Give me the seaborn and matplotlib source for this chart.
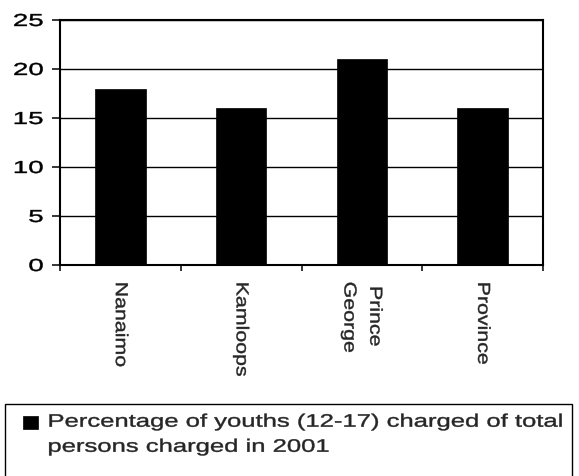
import matplotlib
matplotlib.use("Agg")
import matplotlib.pyplot as plt
import pandas as pd
import seaborn as sns
from matplotlib.legend_handler import HandlerPatch
from matplotlib.patches import Rectangle
from matplotlib.patheffects import AbstractPathEffect
from matplotlib.transforms import Affine2D

# ---- data -------------------------------------------------------------
cities = ["Nanaimo", "Kamloops", "Prince\nGeorge", "Province"]
youth_pct = [18, 16, 21, 16]
y_ticks = [0, 5, 10, 15, 20, 25]
series_label = ("Percentage of youths (12-17) charged of total\n"
                "persons charged in 2001")


class WideText(AbstractPathEffect):
    """Widen glyphs along the writing direction, keeping one end fixed,
    give the strokes a touch of extra weight and optionally nudge them."""

    def __init__(self, factor, anchor="start", weight=0.3, dy=0.0):
        super().__init__()
        self.factor = factor
        self.anchor = anchor
        self.weight = weight
        self.dy = dy

    def draw_path(self, renderer, gc, tpath, affine, rgbFace=None):
        if len(tpath.vertices) == 0:
            renderer.draw_path(gc, tpath, affine, rgbFace)
            return
        ext = tpath.get_extents()
        if self.anchor == "end":
            x0 = ext.x1
        elif self.anchor == "center":
            x0 = 0.5 * (ext.x0 + ext.x1)
        else:
            x0 = 0.0
        widen = Affine2D().translate(-x0, 0).scale(self.factor, 1).translate(x0, 0)
        shift = Affine2D().translate(0, renderer.points_to_pixels(self.dy))
        gc0 = renderer.new_gc()
        gc0.copy_properties(gc)
        gc0.set_linewidth(self.weight)
        renderer.draw_path(gc0, tpath, widen + affine + shift, rgbFace)
        gc0.restore()


class RaisedSquare(HandlerPatch):
    """Legend key drawn beside the first line of a two-line label."""

    def __init__(self, lift, **kw):
        super().__init__(**kw)
        self.lift = lift

    def create_artists(self, legend, orig_handle, xdescent, ydescent,
                       width, height, fontsize, trans):
        sq = Rectangle((-xdescent, -ydescent + self.lift * fontsize),
                       width, height, facecolor="black", edgecolor="black",
                       linewidth=0.5, transform=trans)
        return [sq]


sns.set_style("white")
plt.rcParams["font.family"] = ["Liberation Sans", "DejaVu Sans"]

W, H = 579, 476
fig = plt.figure(figsize=(W / 100, H / 100), dpi=100)
ax = fig.add_axes([60 / W, 1 - 265 / H, 483 / W, 245 / H])

df = pd.DataFrame({"city": cities, "pct": youth_pct})
sns.barplot(data=df, x="city", y="pct", color="black", saturation=1,
            width=0.42, edgecolor="black", linewidth=0.5, ax=ax)

ax.set_xlabel("")
ax.set_ylabel("")
ax.set_xlim(-0.5, len(cities) - 0.5)
ax.set_ylim(0, 25)
ax.set_yticks(y_ticks)

# category separators as major ticks, names centred as minor tick labels
ax.set_xticks([i - 0.5 for i in range(len(cities) + 1)],
              [""] * (len(cities) + 1))
ax.set_xticks(range(len(cities)), cities, minor=True)

ax.yaxis.grid(True, color="black", linewidth=1.0)
ax.xaxis.grid(False)
ax.set_axisbelow(True)
for sp in ax.spines.values():
    sp.set_visible(True)
    sp.set_color("black")
    sp.set_linewidth(1.5)

ax.tick_params(axis="y", which="major", left=True, direction="out",
               length=6, width=1.1, pad=6, labelsize=12.5, colors="black")
ax.tick_params(axis="x", which="major", bottom=True, direction="out",
               length=4.5, width=1.1, colors="black")
ax.tick_params(axis="x", which="minor", bottom=True, length=0, pad=12,
               labelsize=12.5, labelrotation=-90)

for lab in ax.get_xticklabels(minor=True):
    lab.set_multialignment("center")
    lab.set_linespacing(1.9)
    lab.set_path_effects([WideText(1.23, "start")])
for lab in ax.get_yticklabels():
    lab.set_path_effects([WideText(1.6, "end")])

bars = ax.containers[0]
leg = fig.legend(handles=[bars], labels=[series_label], loc="upper left",
                 bbox_to_anchor=(5 / W, 0, 567 / W, 1 - 404 / H),
                 mode="expand", borderaxespad=0, fontsize=13,
                 frameon=True, fancybox=False, shadow=False,
                 edgecolor="black", facecolor="white", framealpha=1,
                 borderpad=1.0, handlelength=0.85, handleheight=0.8,
                 handletextpad=0.5,
                 handler_map={bars: RaisedSquare(lift=1.15)})
leg.get_frame().set_linewidth(1.0)
for t in leg.get_texts():
    t.set_linespacing(1.62)
    t.set_path_effects([WideText(1.42, "start", dy=6.0)])

fig.savefig("out.png", dpi=100)
